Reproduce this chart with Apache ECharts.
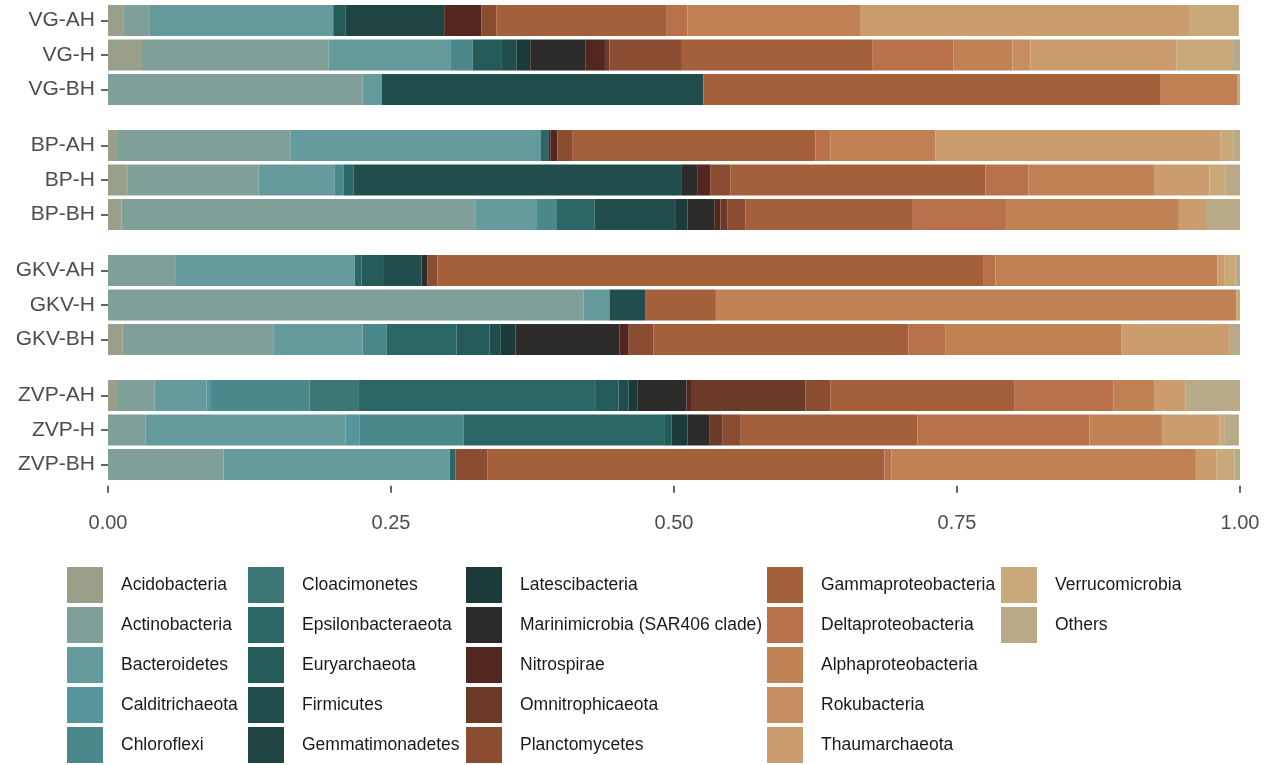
<!DOCTYPE html>
<html>
<head>
<meta charset="utf-8">
<title>Phylum composition by site</title>
<script src="https://cdn.jsdelivr.net/npm/echarts@6/dist/echarts.min.js"></script>
<style>
  html, body { margin: 0; padding: 0; background: #ffffff; }
  #chart { width: 1279px; height: 765px; }
</style>
</head>
<body>
<div id="chart"></div>
<script>
// Phyla in stacking order (left to right) and their fill colours
const phyla = [
  'Acidobacteria', 'Actinobacteria', 'Bacteroidetes', 'Calditrichaeota', 'Chloroflexi',
  'Cloacimonetes', 'Epsilonbacteraeota', 'Euryarchaeota', 'Firmicutes', 'Gemmatimonadetes',
  'Latescibacteria', 'Marinimicrobia (SAR406 clade)', 'Nitrospirae', 'Omnitrophicaeota', 'Planctomycetes',
  'Gammaproteobacteria', 'Deltaproteobacteria', 'Alphaproteobacteria', 'Rokubacteria', 'Thaumarchaeota',
  'Verrucomicrobia', 'Others'
];
const phylumColors = [
  '#9a9f8a', '#7f9f98', '#669b9e', '#56959b', '#4a888b',
  '#3c7776', '#2a6766', '#245b59', '#214e4d', '#1f4442',
  '#1c3b38', '#2d2c2a', '#52271f', '#6b3b28', '#8a4d31',
  '#a45f3b', '#b8714a', '#c08155', '#c78e62', '#cb9c6e',
  '#c9a879', '#b8aa87'
];

// Sites, each with three samples (one panel per site)
const siteSamples = [
  ['VG-AH', 'VG-H', 'VG-BH'],
  ['BP-AH', 'BP-H', 'BP-BH'],
  ['GKV-AH', 'GKV-H', 'GKV-BH'],
  ['ZVP-AH', 'ZVP-H', 'ZVP-BH']
];
const xTicks = [0, 0.25, 0.5, 0.75, 1];

// Relative abundance per sample, in the same order as `phyla`
const vgAH  = [0.014, 0.023, 0.162, 0, 0, 0, 0, 0.011, 0, 0.087, 0, 0, 0.033, 0, 0.013, 0.150, 0.019, 0.153, 0, 0.290, 0.044, 0];
const vgH   = [0.030, 0.165, 0.108, 0, 0.019, 0, 0, 0.026, 0.013, 0, 0.012, 0.049, 0.017, 0.004, 0.064, 0.168, 0.072, 0.052, 0.016, 0.129, 0.049, 0.008];
const vgBH  = [0, 0.225, 0.017, 0, 0, 0, 0, 0, 0.284, 0, 0, 0, 0, 0, 0, 0.404, 0, 0.068, 0, 0, 0.002, 0];
const bpAH  = [0.008, 0.153, 0.221, 0, 0, 0, 0.007, 0, 0, 0, 0, 0.002, 0.006, 0, 0.013, 0.215, 0.013, 0.093, 0, 0.252, 0.011, 0.007];
const bpH   = [0.017, 0.116, 0.067, 0, 0.008, 0, 0.009, 0, 0.290, 0, 0, 0.014, 0.011, 0, 0.018, 0.225, 0.038, 0.111, 0, 0.049, 0.014, 0.013];
const bpBH  = [0.012, 0.313, 0.054, 0, 0.017, 0, 0.034, 0, 0.071, 0, 0.011, 0.024, 0.005, 0.006, 0.016, 0.148, 0.083, 0.152, 0, 0.024, 0, 0.030];
const gkvAH = [0, 0.060, 0.158, 0, 0, 0, 0.006, 0.019, 0.034, 0, 0, 0.005, 0, 0, 0.009, 0.482, 0.011, 0.196, 0, 0.006, 0.010, 0.004];
const gkvH  = [0, 0.420, 0.023, 0, 0, 0, 0, 0, 0.032, 0, 0, 0, 0, 0, 0, 0.062, 0, 0.460, 0, 0, 0.003, 0];
const gkvBH = [0.013, 0.133, 0.079, 0, 0.021, 0, 0.062, 0.029, 0.010, 0, 0.013, 0.092, 0.008, 0, 0.022, 0.225, 0.033, 0.155, 0, 0.096, 0, 0.009];
const zvpAH = [0.008, 0.033, 0.046, 0.004, 0.087, 0.043, 0.210, 0.020, 0.009, 0, 0.008, 0.043, 0.004, 0.101, 0.022, 0.163, 0.087, 0.036, 0, 0.028, 0, 0.049];
const zvpH  = [0, 0.033, 0.177, 0.012, 0.092, 0, 0.178, 0.006, 0, 0, 0.014, 0.019, 0, 0.012, 0.016, 0.156, 0.152, 0.064, 0, 0.051, 0.004, 0.013];
const zvpBH = [0, 0.102, 0.200, 0, 0, 0, 0.005, 0, 0, 0, 0, 0, 0, 0, 0.028, 0.351, 0.006, 0.269, 0, 0.018, 0.016, 0.005];

// Rows of each panel, same order as siteSamples
const siteValues = [
  [vgAH, vgH, vgBH],
  [bpAH, bpH, bpBH],
  [gkvAH, gkvH, gkvBH],
  [zvpAH, zvpH, zvpBH]
];

const FONT = '"Liberation Sans", Arial, Helvetica, sans-serif';
const AXIS_TEXT = '#4d4d4d';
const TICK = '#333333';

const panelTops = [3.25, 128.25, 253.25, 378.25];
const panelHeight = 103.5;

const grids = [], xAxes = [], yAxes = [], series = [];
siteSamples.forEach((samples, gi) => {
  const last = gi === siteSamples.length - 1;
  grids.push({ left: 108, right: 39, top: panelTops[gi], height: panelHeight, containLabel: false });
  xAxes.push({
    type: 'value', gridIndex: gi, min: xTicks[0], max: xTicks[xTicks.length - 1], interval: 0.25,
    offset: 4,
    axisLine: { show: false },
    splitLine: { show: false },
    axisTick: { show: last, length: 7, lineStyle: { color: TICK, width: 1.5 } },
    axisLabel: {
      show: last, margin: 28, fontSize: 20, color: AXIS_TEXT, fontFamily: FONT,
      formatter: v => v.toFixed(2)
    }
  });
  yAxes.push({
    type: 'category', gridIndex: gi, data: samples, inverse: true,
    axisLine: { show: false },
    axisTick: { show: true, alignWithLabel: true, length: 7, lineStyle: { color: TICK, width: 1.5 } },
    axisLabel: { margin: 13, fontSize: 21, color: AXIS_TEXT, fontFamily: FONT }
  });
  phyla.forEach((name, pi) => {
    series.push({
      type: 'bar', name: name, xAxisIndex: gi, yAxisIndex: gi, stack: 'site' + gi,
      barCategoryGap: '10%', silent: true,
      itemStyle: { color: phylumColors[pi] },
      emphasis: { disabled: true },
      data: siteValues[gi].map(row => row[pi])
    });
  });
});

// Legend laid out in columns of five, filled top to bottom
const legendLefts = [67, 248, 466, 767, 1001];
const legends = legendLefts.map((left, ci) => ({
  orient: 'vertical', left: left, top: 567, height: 198, padding: 0,
  itemWidth: 36, itemHeight: 36, itemGap: 4,
  icon: 'rect', selectedMode: false,
  data: phyla.slice(ci * 5, ci * 5 + 5),
  textStyle: { fontSize: 17.5, color: '#1a1a1a', fontFamily: FONT, padding: [0, 0, 0, 13] }
}));

const chart = echarts.init(document.getElementById('chart'), null, { renderer: 'canvas' });
chart.setOption({
  backgroundColor: '#ffffff',
  animation: false,
  textStyle: { fontFamily: FONT },
  grid: grids,
  xAxis: xAxes,
  yAxis: yAxes,
  legend: legends,
  series: series
});
</script>
</body>
</html>
